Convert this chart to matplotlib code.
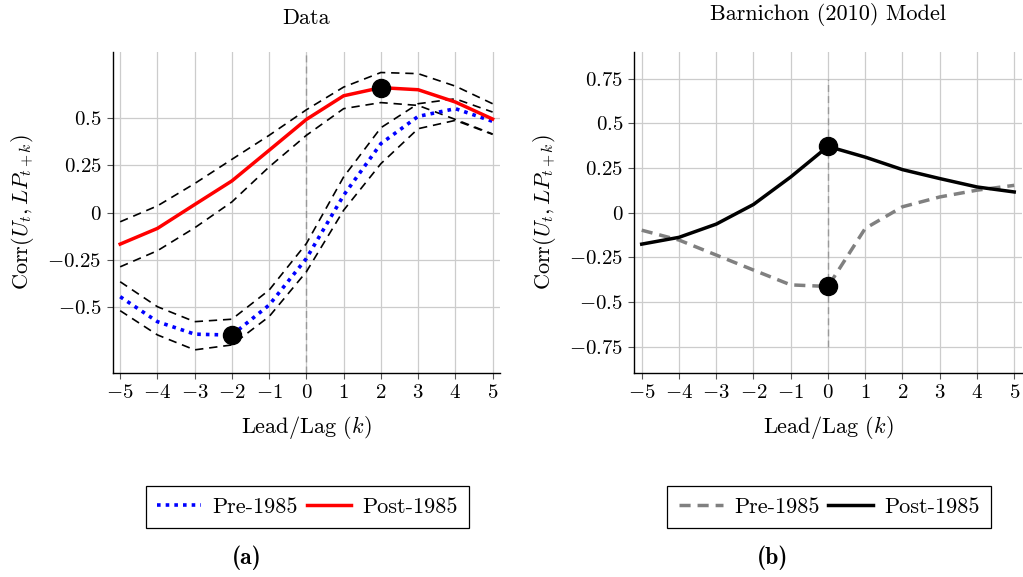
#!/usr/bin/env python3
'''
Correlation of unemployment and labour productivity at leads/lags:
data (left) and Barnichon (2010) model (right)
'''
import matplotlib
matplotlib.use('Agg')
import matplotlib.pyplot as plt
from matplotlib.ticker import FixedLocator, FuncFormatter

plt.rcParams['font.family'] = 'serif'
plt.rcParams['font.serif'] = ['cmr10', 'DejaVu Serif']
plt.rcParams['mathtext.fontset'] = 'cm'
plt.rcParams['axes.formatter.use_mathtext'] = True
plt.rcParams['axes.unicode_minus'] = True

lags = [-5, -4, -3, -2, -1, 0, 1, 2, 3, 4, 5]

# panel (a): data
data_post = [-0.167, -0.084, 0.042, 0.167, 0.329, 0.492, 0.617, 0.660, 0.649, 0.584, 0.494]
data_post_hi = [-0.049, 0.035, 0.153, 0.281, 0.408, 0.543, 0.663, 0.740, 0.734, 0.668, 0.575]
data_post_lo = [-0.287, -0.202, -0.081, 0.056, 0.241, 0.408, 0.549, 0.581, 0.566, 0.492, 0.415]
data_pre = [-0.445, -0.577, -0.643, -0.648, -0.489, -0.243, 0.091, 0.364, 0.508, 0.549, 0.482]
data_pre_hi = [-0.366, -0.498, -0.577, -0.564, -0.410, -0.164, 0.188, 0.448, 0.575, 0.601, 0.531]
data_pre_lo = [-0.519, -0.647, -0.726, -0.700, -0.550, -0.313, 0.012, 0.258, 0.443, 0.487, 0.413]

# panel (b): model
model_post = [-0.177, -0.139, -0.065, 0.045, 0.199, 0.370, 0.310, 0.240, 0.190, 0.143, 0.115]
model_pre = [-0.099, -0.154, -0.238, -0.322, -0.405, -0.414, -0.089, 0.032, 0.087, 0.125, 0.152]

yticks_a = [-0.5, -0.25, 0, 0.25, 0.5]
yticks_b = [-0.75, -0.5, -0.25, 0, 0.25, 0.5, 0.75]


def fmt(v, pos):
    if v == 0:
        return '$0$'
    s = ('%g' % abs(v))
    return ('$-%s$' % s) if v < 0 else ('$%s$' % s)


def style_axes(ax, yticks, ylim):
    ax.set_xlim(-5.2, 5.2)
    ax.set_ylim(*ylim)
    ax.xaxis.set_major_locator(FixedLocator(lags))
    ax.yaxis.set_major_locator(FixedLocator(yticks))
    ax.xaxis.set_major_formatter(FuncFormatter(fmt))
    ax.yaxis.set_major_formatter(FuncFormatter(fmt))
    ax.grid(True, color='#cccccc', linewidth=0.9)
    ax.set_axisbelow(True)
    for side in ['top', 'right']:
        ax.spines[side].set_visible(False)
    for side in ['left', 'bottom']:
        ax.spines[side].set_linewidth(1.0)
    ax.tick_params(direction='out', length=4, width=0.8, color='#555555',
                   labelsize=15, pad=4)
    ax.set_xlabel('Lead/Lag ($k$)', fontsize=16, labelpad=8)
    ax.set_ylabel('Corr$(U_t, LP_{t+k})$', fontsize=16, labelpad=8)


def legend_below(ax, handles, xc):
    leg = ax.legend(handles=handles, loc='center', ncol=2,
                    bbox_to_anchor=(xc, 0.121), bbox_transform=fig.transFigure,
                    fontsize=16, frameon=True, fancybox=False,
                    edgecolor='black', framealpha=1, handlelength=2.0,
                    handletextpad=0.5, columnspacing=0.4, borderpad=0.5)
    leg.get_frame().set_linewidth(0.9)


fig = plt.figure(figsize=(10.23, 5.77), dpi=100)
ax1 = fig.add_axes([0.1102, 0.353, 0.3786, 0.5574])
ax2 = fig.add_axes([0.620, 0.353, 0.3787, 0.5574])

# left panel
style_axes(ax1, yticks_a, (-0.85, 0.85))
ax1.plot([0, 0], [-0.85, 0.85], color='#999999', lw=1.0,
         linestyle=(0, (5, 3)), zorder=2)
for band in [data_post_hi, data_post_lo, data_pre_hi, data_pre_lo]:
    ax1.plot(lags, band, color='black', lw=1.2, linestyle=(0, (5, 3.5)),
             zorder=3)
l_pre, = ax1.plot(lags, data_pre, color='blue', lw=2.6,
                  linestyle=(0, (1, 1.4)), label='Pre-1985', zorder=4)
l_post, = ax1.plot(lags, data_post, color='red', lw=2.5, label='Post-1985',
                   zorder=4)
i_max = data_post.index(max(data_post))
i_min = data_pre.index(min(data_pre))
ax1.plot([lags[i_max], lags[i_min]], [data_post[i_max], data_pre[i_min]],
         'o', color='black', markersize=13, zorder=5)
ax1.set_title('Data', fontsize=16, pad=20)
legend_below(ax1, [l_pre, l_post], 0.3003)

# right panel
style_axes(ax2, yticks_b, (-0.9, 0.9))
ax2.plot([0, 0], [-0.75, 0.75], color='#999999', lw=1.0,
         linestyle=(0, (5, 3)), zorder=2)
m_pre, = ax2.plot(lags, model_pre, color='#808080', lw=2.5,
                  linestyle=(0, (3.2, 2)), label='Pre-1985', zorder=4)
m_post, = ax2.plot(lags, model_post, color='black', lw=2.5,
                   label='Post-1985', zorder=4)
ax2.plot([0, 0], [model_post[5], model_pre[5]], 'o', color='black',
         markersize=13, zorder=5)
ax2.set_title('Barnichon (2010) Model', fontsize=16, pad=23)
legend_below(ax2, [m_pre, m_post], 0.8104)

fig.text(247 / 1023, 1 - 558 / 577, '(a)', fontsize=17, family='cmb10',
         ha='center', va='center')
fig.text(773 / 1023, 1 - 558 / 577, '(b)', fontsize=17, family='cmb10',
         ha='center', va='center')

fig.savefig('out.png', dpi=100)
